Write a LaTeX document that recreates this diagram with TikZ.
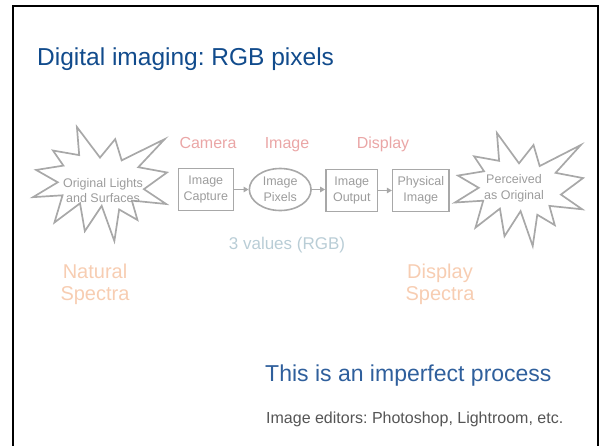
\documentclass[tikz,border=0pt]{standalone}
\usepackage{fontspec}
\setmainfont{Liberation Sans}
\frenchspacing
\usetikzlibrary{arrows.meta,shapes.geometric}
\definecolor{titleblue}{HTML}{114B8C}
\definecolor{noteblue}{HTML}{2F5F9C}
\definecolor{notegray}{HTML}{555555}
\definecolor{diagray}{HTML}{A8A8A8}
\definecolor{diatext}{HTML}{9C9C9C}
\definecolor{labpink}{HTML}{EAA6A6}
\definecolor{labblue}{HTML}{B9CDD6}
\definecolor{labpeach}{HTML}{F7CDB2}
\tikzset{
  frameline/.style={line width=2.2pt, black},
  sealline/.style={draw=diagray, line width=1.7pt, line join=miter},
  procbox/.style={draw=diagray, line width=1.6pt, rectangle, inner sep=0pt, text=diatext,
     align=center, font=\fontsize{12.5}{15.5}\selectfont},
  procell/.style={procbox, ellipse},
  sealtext/.style={text=diatext, align=center, font=\fontsize{12.5}{15.5}\selectfont},
  flowarrow/.style={draw=diagray, line width=1.3pt, -{Triangle[length=5pt,width=5.5pt]}},
  stagelabel/.style={text=labpink, font=\fontsize{16}{19}\selectfont, anchor=base, inner sep=0pt},
  spectralabel/.style={text=labpeach, align=center, font=\fontsize{20}{22}\selectfont, inner sep=0pt},
  seal/.pic={
    \draw[sealline] (108,58) -- (70.78,0) -- (74.45,53.25) -- (32.20,44.57) -- (48.98,73.15)
      -- (5.03,81.37) -- (39.93,104.75) -- (0,132.90) -- (47.63,129.42) -- (34.55,180.95)
      -- (75.80,144.57) -- (83.53,197.37) -- (110.68,149.35) -- (131.15,216) -- (138.85,156.27)
      -- (168.38,176.17) -- (159.33,139.37) -- (214.65,145.87) -- (178.78,117.75) -- (216,86.15)
      -- (169.73,76.17) -- (212.30,22.95) -- (142.88,63.20) -- (132.48,22.95) -- cycle;
  }
}
\begin{document}
\begin{tikzpicture}[x=1pt,y=-1pt]
\useasboundingbox (0,0) rectangle (602,445);
% slide frame (open at the bottom)
\draw[frameline] (13,450) -- (13,6) -- (598,6) -- (598,450);

% title
\node[anchor=base west, inner sep=0pt, text=titleblue, font=\fontsize{24.5}{28}\selectfont]
  (title) at (37,65) {Digital imaging: RGB pixels};

% explosion shapes
\begin{scope}[shift={(33,127)}, x=0.6204pt, y=-0.5278pt]
  \pic {seal};
\end{scope}
\begin{scope}[shift={(455,133)}, x=0.5926pt, y=-0.5230pt]
  \pic {seal};
\end{scope}
\node[sealtext] (orig) at (103,190.5) {Original Lights\\and Surfaces};
\node[sealtext] (perc) at (514,188.5) {Perceived\\as Original};

% process chain
\node[procbox, minimum width=55pt, minimum height=42pt] (cap) at (205.8,189.5) {Image\\Capture};
\node[procell, minimum width=61.7pt, minimum height=42pt] (pix) at (280.2,189.5) {Image\\Pixels};
\node[procbox, minimum width=51.7pt, minimum height=42pt] (out) at (351.8,190.5) {Image\\Output};
\node[procbox, minimum width=56.3pt, minimum height=42pt] (phys) at (420.8,190.5) {Physical\\Image};
\draw[flowarrow] (cap.east) -- (pix.west);
\draw[flowarrow] (pix.east) -- (pix.east -| out.west);
\draw[flowarrow] (out.east) -- (phys.west);

% stage labels
\node[stagelabel] (camlab) at (208,148) {Camera};
\node[stagelabel] (imglab) at (287,148) {Image};
\node[stagelabel] (displab) at (383,148) {Display};

\node[anchor=base, inner sep=0pt, text=labblue, font=\fontsize{17}{20}\selectfont]
  (rgb) at (287,249) {3 values (RGB)};

\node[spectralabel] (natspec) at (95,284) {Natural\\Spectra};
\node[spectralabel] (disspec) at (440,284) {Display\\Spectra};

% notes
\node[anchor=base west, inner sep=0pt, text=noteblue, font=\fontsize{23}{26}\selectfont]
  (imperf) at (265,381) {This is an imperfect process};
\node[anchor=base west, inner sep=0pt, text=notegray, font=\fontsize{16}{19}\selectfont]
  (editors) at (266,423) {Image editors: Photoshop, Lightroom, etc.};
\end{tikzpicture}
\end{document}
